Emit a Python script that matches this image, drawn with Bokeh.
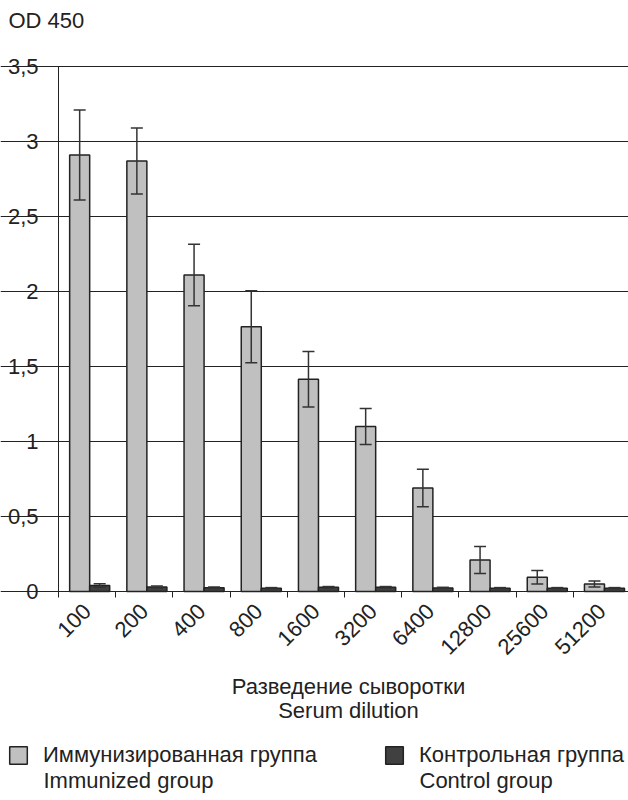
import math
from bokeh.plotting import figure
from bokeh.models import (ColumnDataSource, Range1d, FixedTicker, Whisker, TeeHead,
                          Legend, LegendItem, Label, LinearAxis, Grid)
from bokeh.embed import file_html
from bokeh.resources import INLINE

# ---- data ----
dilutions = ["100", "200", "400", "800", "1600", "3200", "6400", "12800", "25600", "51200"]
immunized_mean = [2.91, 2.87, 2.11, 1.765, 1.415, 1.10, 0.69, 0.21, 0.095, 0.05]
immunized_sd = [0.30, 0.22, 0.205, 0.24, 0.185, 0.12, 0.125, 0.09, 0.045, 0.02]
control_mean = [0.04, 0.03, 0.025, 0.022, 0.028, 0.028, 0.024, 0.022, 0.022, 0.022]
control_sd = [0.012, 0.007, 0.005, 0.004, 0.005, 0.005, 0.004, 0.004, 0.004, 0.004]
y_ticks = [0, 0.5, 1, 1.5, 2, 2.5, 3, 3.5]
y_tick_labels = ["0", "0,5", "1", "1,5", "2", "2,5", "3", "3,5"]
y_title = "OD 450"
x_title_ru = "Разведение сыворотки"
x_title_en = "Serum dilution"
legend_imm_ru, legend_imm_en = "Иммунизированная группа", "Immunized group"
legend_ctl_ru, legend_ctl_en = "Контрольная группа", "Control group"

FONT = "Liberation Sans"
FS = "22px"
INK = "#222222"

W, H = 628, 800
AX_X, AX_Y = 58, 591          # pixel position of the axes' origin
PX_PER_CAT, PX_PER_UNIT = 57.2, 150.0
XEND = (W - AX_X) / PX_PER_CAT

idx = list(range(len(dilutions)))
imm_x = [i + 0.37 for i in idx]
ctl_x = [i + 0.72 for i in idx]
src_imm = ColumnDataSource(dict(
    x=imm_x, top=immunized_mean,
    upper=[m + s for m, s in zip(immunized_mean, immunized_sd)],
    lower=[m - s for m, s in zip(immunized_mean, immunized_sd)]))
src_ctl = ColumnDataSource(dict(
    x=ctl_x, top=control_mean,
    upper=[m + s for m, s in zip(control_mean, control_sd)],
    lower=[m - s for m, s in zip(control_mean, control_sd)]))

p = figure(width=W, height=H, output_backend="svg", toolbar_location=None,
           x_range=Range1d(-AX_X / PX_PER_CAT, XEND),
           y_range=Range1d(-(H - AX_Y) / PX_PER_UNIT, AX_Y / PX_PER_UNIT),
           x_axis_location=None, y_axis_location=None,
           min_border=0)
p.outline_line_color = None
p.background_fill_color = "white"
p.border_fill_color = "white"
for g in p.grid:
    g.visible = False

ygrid = Grid(dimension=1, ticker=FixedTicker(ticks=y_ticks), bounds=(0, XEND),
             grid_line_color=INK, grid_line_width=1)
p.add_layout(ygrid)

r_imm = p.vbar(x="x", top="top", bottom=0, width=0.35, source=src_imm,
               fill_color="#c0c0c0", line_color=INK, line_width=1.5)
r_ctl = p.vbar(x="x", top="top", bottom=0, width=0.35, source=src_ctl,
               fill_color="#404040", line_color=INK, line_width=1.5)

for src in (src_imm, src_ctl):
    w = Whisker(base="x", upper="upper", lower="lower", source=src, level="overlay",
                line_color="#333333", line_width=1.5,
                upper_head=TeeHead(size=12, line_color="#333333", line_width=1.5),
                lower_head=TeeHead(size=12, line_color="#333333", line_width=1.5))
    p.add_layout(w)

yaxis = LinearAxis(fixed_location=0, bounds=(0, 3.5), ticker=FixedTicker(ticks=y_ticks),
                   major_label_overrides={t: l for t, l in zip(y_ticks, y_tick_labels)},
                   major_tick_out=5, major_tick_in=0, minor_tick_line_color=None,
                   major_label_standoff=15, axis_line_color=INK, major_tick_line_color=INK,
                   major_label_text_font=FONT, major_label_text_font_size=FS,
                   major_label_text_color=INK)
p.add_layout(yaxis, "left")

xaxis = LinearAxis(fixed_location=0, bounds=(0, XEND),
                   ticker=FixedTicker(ticks=[i + 0.5 for i in idx],
                                      minor_ticks=list(range(len(dilutions) + 1))),
                   major_label_overrides={i + 0.5: d for i, d in zip(idx, dilutions)},
                   major_tick_line_color=None, minor_tick_out=6, minor_tick_in=0,
                   minor_tick_line_color=INK, axis_line_color=INK,
                   major_label_orientation=math.pi / 4, major_label_standoff=10,
                   major_label_text_font=FONT, major_label_text_font_size=FS,
                   major_label_text_color=INK)
p.add_layout(xaxis, "below")

def add_text(txt, X, Yc, align="left"):
    # Yc: vertical centre of the text line, in pixels from the top
    p.add_layout(Label(x=X, y=H - Yc, x_units="screen", y_units="screen", text=txt,
                       text_font=FONT, text_font_size=FS, text_color=INK,
                       text_align=align, text_baseline="middle"))

add_text(y_title, 8, 20)
add_text(x_title_ru, 348, 686, "center")
add_text(x_title_en, 348, 710, "center")

for r, lab, lab2, lx in ((r_imm, legend_imm_ru, legend_imm_en, 7),
                         (r_ctl, legend_ctl_ru, legend_ctl_en, 383)):
    lg = Legend(items=[LegendItem(label=lab, renderers=[r])], location=(lx, 800 - 768),
                glyph_width=22, glyph_height=22, label_standoff=14, padding=0, margin=0,
                border_line_color=None, background_fill_alpha=0,
                label_text_font=FONT, label_text_font_size=FS, label_text_color=INK)
    p.add_layout(lg)
    add_text(lab2, lx + 22 + 14, 780)

open("out.html", "w").write(file_html(p, INLINE))
